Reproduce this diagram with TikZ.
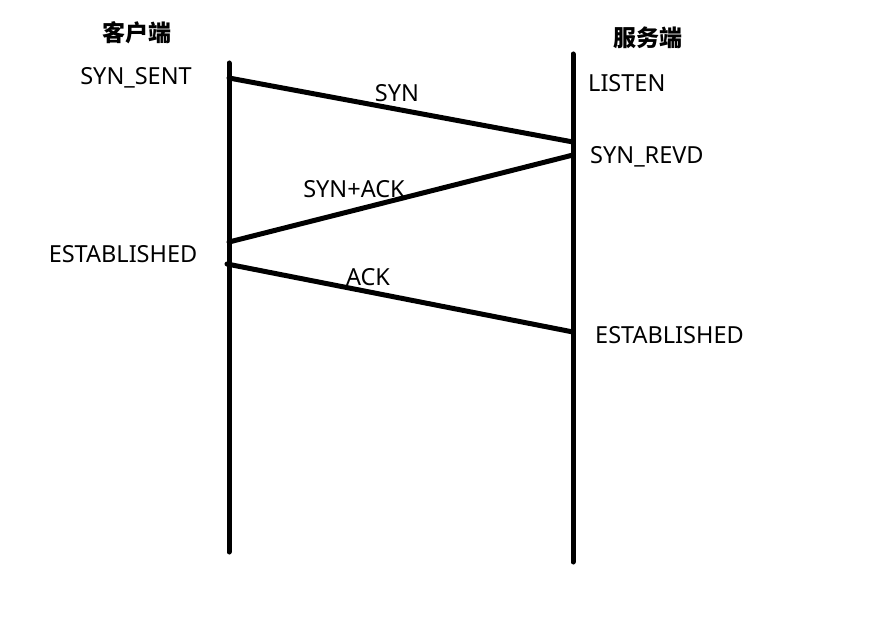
\documentclass[tikz,border=0pt]{standalone}
\usepackage{fontspec}
\setmainfont{Noto Sans}
\newfontfamily\cjk{Noto Sans CJK SC}
\begin{document}
\begin{tikzpicture}[x=1pt,y=-1pt,
  life/.style={line width=5pt,line cap=round},
  msg/.style={line width=5pt,line cap=round},
  lbl/.style={inner sep=0pt,font=\fontsize{23.5}{26}\selectfont},
  head/.style={inner sep=0pt,font=\cjk\bfseries\fontsize{23}{26}\selectfont}]
\useasboundingbox (0,0) rectangle (870,636);
\fill[white] (0,0) rectangle (870,636);
% lifelines
\coordinate (ctop) at (229,63);
\coordinate (cbot) at (229,552);
\coordinate (stop) at (573,54);
\coordinate (sbot) at (573,562);
\draw[life] (ctop) -- (cbot);
\draw[life] (stop) -- (sbot);
% message endpoints
\coordinate (syn1) at (229,78);
\coordinate (syn2) at (573,142);
\coordinate (sa1) at (573,155);
\coordinate (sa2) at (229,242);
\coordinate (ack1) at (227,264);
\coordinate (ack2) at (573,332);
\draw[msg] (syn1) -- (syn2);
\draw[msg] (sa1) -- (sa2);
\draw[msg] (ack1) -- (ack2);
% headers
\node[head] (client) at (137,33) {客户端};
\node[head] (server) at (648,38) {服务端};
% labels
\node[lbl] (synsent) at (136,78) {SYN\_SENT};
\node[lbl,anchor=west] (listen) at (588,83) {LISTEN};
\node[lbl] (synlbl) at (397,93) {SYN};
\node[lbl,anchor=west] (synrevd) at (590,157) {SYN\_REVD};
\node[lbl] (salbl) at (354,189) {SYN+ACK};
\node[lbl] (estc) at (123,254) {ESTABLISHED};
\node[lbl] (acklbl) at (368,277) {ACK};
\node[lbl,anchor=west] (ests) at (595,335) {ESTABLISHED};
\end{tikzpicture}
\end{document}
